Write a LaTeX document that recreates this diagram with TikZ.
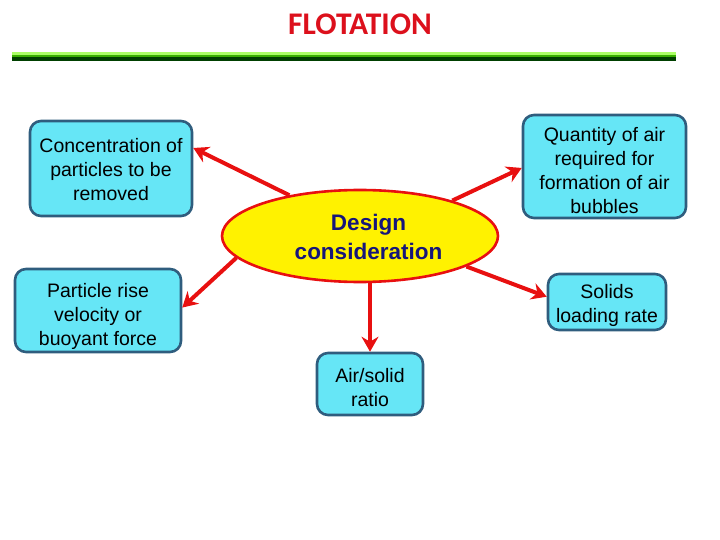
\documentclass[tikz,border=0pt]{standalone}
\usepackage{fontspec}
\setmainfont{Liberation Sans}
\newfontfamily\titlefont{Carlito}
\usepackage{xcolor}
\usetikzlibrary{arrows.meta,shapes.geometric}

\definecolor{boxfill}{HTML}{66E6F6}
\definecolor{boxline}{HTML}{2F5D7E}
\definecolor{arrred}{HTML}{E81010}
\definecolor{titlered}{HTML}{DC101C}
\definecolor{navytext}{HTML}{16167A}

\begin{document}
\begin{tikzpicture}[
  x=1pt, y=-1pt,
  factor/.style={draw=boxline, line width=2.6pt, fill=boxfill, rounded corners=11pt, align=center, inner sep=2pt, font=\fontsize{19.5}{24}\selectfont},
  hub/.style={ellipse, draw=arrred, line width=2.6pt, fill=yellow, inner sep=0pt, minimum width=276pt, minimum height=92pt},
  hubtext/.style={align=center, inner sep=0pt, text=navytext, font=\bfseries\fontsize{22.5}{29}\selectfont},
  arr/.style={-{Stealth[length=15pt, width=17pt, inset=5pt]}, line width=4pt, arrred}
]
\useasboundingbox (0,0) rectangle (720,540);
% title and bar
\node[font=\titlefont\bfseries\fontsize{31.5}{31}\selectfont, text=titlered] (title) at (360,24) {FLOTATION};
\fill[green!40!lime!60!white] (12,52) rectangle (676,55);
\fill[green!55!black!70!lime] (12,55) rectangle (676,57);
\fill[green!25!black] (12,57) rectangle (676,61);
% centre and factors
\node[hub] (dc) at (360,236) {};
\node[factor, minimum width=162pt, minimum height=95pt, text height=64.4pt] (conc) at (111,168.5) {Concentration of\\ particles to be\\ removed};
\node[factor, minimum width=163pt, minimum height=103pt, text height=94.4pt] (qair) at (604.5,166.5) {Quantity of air\\ required for\\ formation of air\\ bubbles};
\node[factor, minimum width=166pt, minimum height=83pt, text height=74.4pt] (rise) at (98,310.5) {Particle rise\\ velocity or\\ buoyant force};
\node[factor, minimum width=118pt, minimum height=56pt, text height=44.4pt] (slr) at (607,302) {Solids\\ loading rate};
\node[factor, minimum width=106pt, minimum height=62pt, text height=44.4pt] (ratio) at (370,384) {Air/solid\\ ratio};
% arrows
\draw[arr] (dc.150) -- (conc.14);
\draw[arr] (dc.21) -- (qair.181);
\draw[arr] (dc.190) -- (rise.2);
\draw[arr] (dc.344) -- (slr.175);
\draw[arr] (ratio.north |- dc.south) -- (ratio.north);
\node[hubtext] (dctext) at (368.5,236.5) {Design\\ consideration};
\end{tikzpicture}
\end{document}
